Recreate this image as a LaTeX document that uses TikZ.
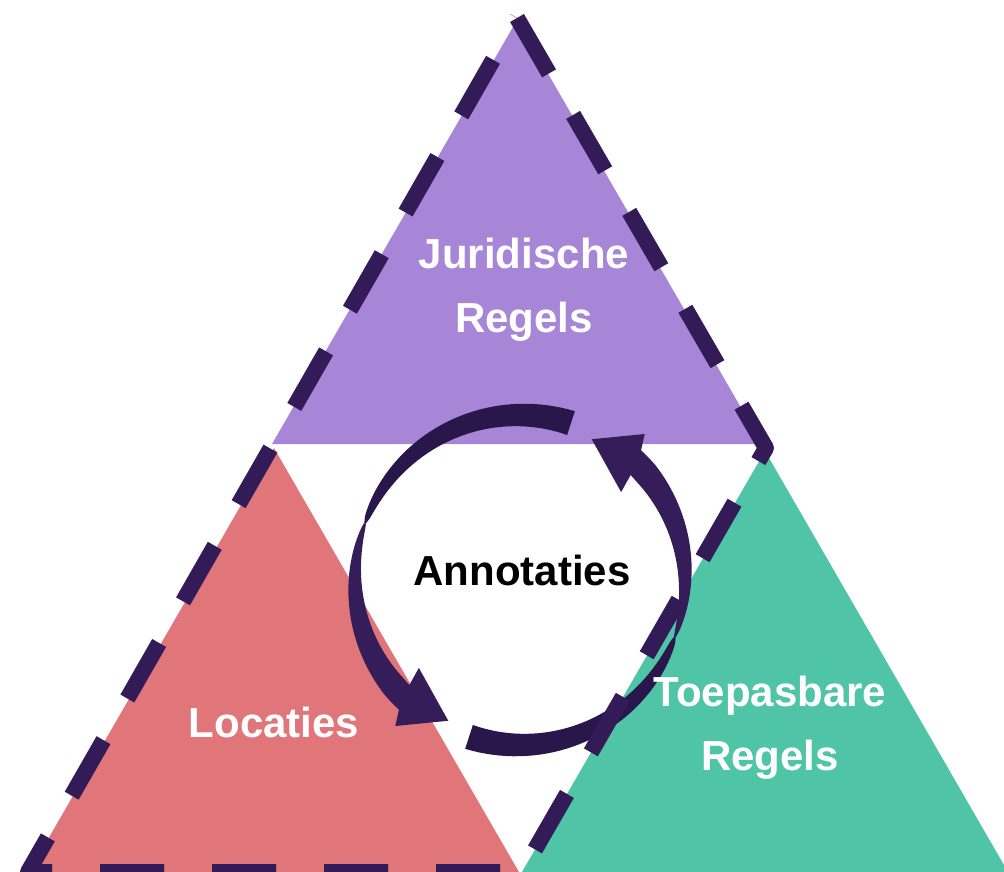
\documentclass[tikz,border=0pt]{standalone}
\usepackage{fontspec}
\setmainfont{Liberation Sans}

\definecolor{jurcol}{HTML}{A786D8}
\definecolor{loccol}{HTML}{E07679}
\definecolor{toecol}{HTML}{50C4A6}
\definecolor{randcol}{HTML}{331B58}
\definecolor{pijlvoor}{HTML}{351D5A}
\definecolor{pijlachter}{HTML}{29164A}

\begin{document}
\begin{tikzpicture}[x = 1pt, y = -1pt,
  lbl/.style = {font = \fontsize{42}{64}\selectfont\bfseries, text = white, align = center, inner sep = 0pt, anchor = base},
  declare function = {hb(\t) = 0.7+11.8*sqrt(max((160-\t)/88,0)); hf(\t) = 1+11.5*pow(min(max((\t-160)/60,0.001),1),0.7);}]
\useasboundingbox (0,0) rectangle (1004,872);
\clip (0,0) rectangle (1004,872);
\fill[jurcol] (517,20) -- (272,444) -- (762,444) -- cycle;
\fill[loccol] (274,448) -- (29,872) -- (519,872) -- cycle;
\fill[toecol] (765,451) -- (522,872) -- (1008,872) -- cycle;
\begin{scope}[shift = {(520,580)}, yscale = -1]
\foreach \a in {0,180}{
\begin{scope}[rotate = \a]
\fill[pijlachter] plot[domain = 72:160, samples = 40] (\x:{165+hb(\x)}) -- plot[domain = 160:72, samples = 40] (\x:{165-hb(\x)}) -- cycle;
\fill[pijlvoor] plot[domain = 160:227, samples = 40] (\x:{165+hf(\x)}) -- (229.5:192) -- (243:158) -- (221:134) -- plot[domain = 223.5:160, samples = 40] (\x:{165-hf(\x)}) -- cycle;
\end{scope}
}
\end{scope}
\draw[randcol, line width = 16pt, line join = round, dash pattern = on 64pt off 48pt] (517,18) -- (766,448) -- (522,872) -- (28,872) -- cycle;
\node[lbl] (jur) at (524,332) {Juridische\\Regels};
\node[lbl] (loc) at (274,737) {Locaties};
\node[lbl] (toe) at (770,770) {Toepasbare\\Regels};
\node[lbl, text = black] (ann) at (522,585) {Annotaties};
\end{tikzpicture}
\end{document}
